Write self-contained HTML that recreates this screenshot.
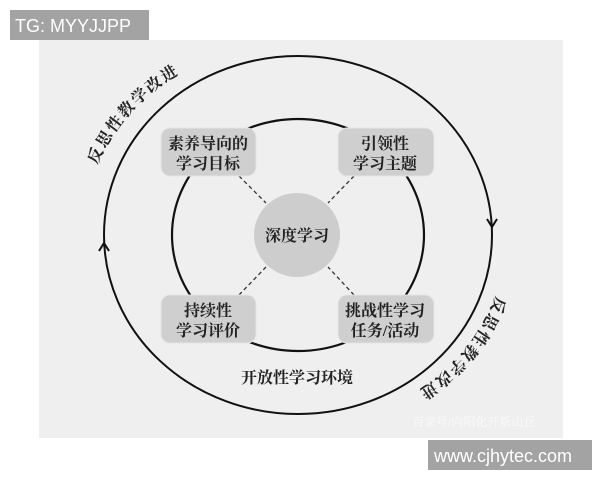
<!DOCTYPE html>
<html><head><meta charset="utf-8"><style>
html,body{margin:0;padding:0;background:#fff;width:600px;height:480px;overflow:hidden}
svg{display:block}
text{font-family:"Liberation Serif","Noto Serif CJK SC","Noto Sans CJK SC",serif;fill:#222}
</style></head><body>
<svg width="600" height="480" viewBox="0 0 600 480" xmlns="http://www.w3.org/2000/svg">
<rect x="39" y="40" width="524" height="398" fill="#efefef"/>
<defs>
<path id="tl" d="M 92 178 A 206 190 0 0 1 298 45"/>
<path id="br" d="M 498 290 A 204 188 0 0 1 380 410"/>
</defs>
<ellipse cx="298" cy="235" rx="194" ry="179" fill="none" stroke="#111" stroke-width="2"/>
<ellipse cx="298" cy="235" rx="126" ry="116" fill="none" stroke="#111" stroke-width="2.2"/>
<polyline points="487,219 492,227 497,219" fill="none" stroke="#111" stroke-width="2"/>
<polyline points="99,251 104,243 109,251" fill="none" stroke="#111" stroke-width="2"/>
<g stroke="#333" stroke-width="1.3" stroke-dasharray="4,3">
<line x1="239" y1="176" x2="266" y2="203"/>
<line x1="354" y1="176" x2="328" y2="203"/>
<line x1="239" y1="295" x2="266" y2="267"/>
<line x1="354" y1="295" x2="328" y2="267"/>
</g>
<g fill="#cfcfcf" stroke="#e4e4e4" stroke-width="1">
<rect x="161" y="128" width="95" height="48" rx="9"/>
<rect x="338" y="128" width="96" height="48" rx="9"/>
<rect x="161" y="295" width="95" height="48" rx="9"/>
<rect x="338" y="295" width="96" height="48" rx="9"/>
</g>
<ellipse cx="297" cy="235" rx="43" ry="42" fill="#cdcdcd"/>
<g font-size="16" font-weight="bold" text-anchor="middle">
<text x="208" y="149">素养导向的</text>
<text x="208" y="169">学习目标</text>
<text x="385" y="149">引领性</text>
<text x="385" y="169">学习主题</text>
<text x="208" y="316">持续性</text>
<text x="208" y="336">学习评价</text>
<text x="385" y="316">挑战性学习</text>
<text x="385" y="336">任务/活动</text>
<text x="297" y="241">深度学习</text>
<text x="297" y="383">开放性学习环境</text>
</g>
<text font-size="16" font-weight="bold" letter-spacing="2"><textPath href="#tl" startOffset="14">反思性教学改进</textPath></text>
<text font-size="16" font-weight="bold" letter-spacing="2"><textPath href="#br" startOffset="6">反思性教学改进</textPath></text>
<text x="412" y="426" font-size="12" style="fill:#fafafa">百家号/向阳化开新山丘</text>
<rect x="10" y="10" width="139" height="30" fill="#a3a3a3"/>
<text x="15" y="32" font-size="18" style="fill:#fff;font-family:'Liberation Sans',sans-serif">TG: MYYJJPP</text>
<rect x="428" y="440" width="164" height="30" fill="#a3a3a3"/>
<text x="434" y="462" font-size="18" style="fill:#fff;font-family:'Liberation Sans',sans-serif">www.cjhytec.com</text>
</svg>
</body></html>
